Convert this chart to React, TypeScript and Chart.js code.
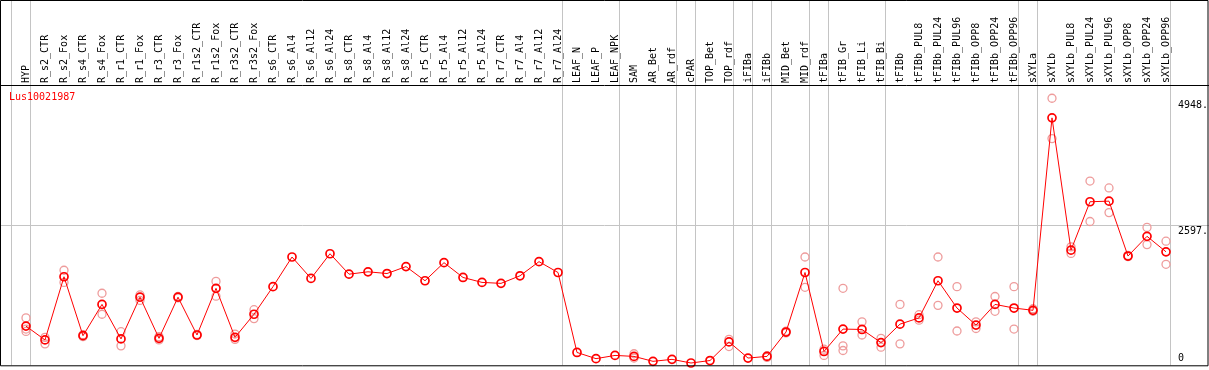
import React, { useEffect, useRef } from 'react';
import { Chart, registerables } from 'chart.js';

Chart.register(...registerables);

const geneId = 'Lus10021987';

const categories = [
  'HYP', 'R_s2_CTR', 'R_s2_Fox', 'R_s4_CTR', 'R_s4_Fox', 'R_r1_CTR', 'R_r1_Fox', 'R_r3_CTR', 'R_r3_Fox',
  'R_r1s2_CTR', 'R_r1s2_Fox', 'R_r3s2_CTR', 'R_r3s2_Fox', 'R_s6_CTR', 'R_s6_Al4', 'R_s6_Al12', 'R_s6_Al24',
  'R_s8_CTR', 'R_s8_Al4', 'R_s8_Al12', 'R_s8_Al24', 'R_r5_CTR', 'R_r5_Al4', 'R_r5_Al12', 'R_r5_Al24',
  'R_r7_CTR', 'R_r7_Al4', 'R_r7_Al12', 'R_r7_Al24', 'LEAF_N', 'LEAF_P', 'LEAF_NPK', 'SAM', 'AR_Bet', 'AR_rdf',
  'cPAR', 'TOP_Bet', 'TOP_rdf', 'iFIBa', 'iFIBb', 'MID_Bet', 'MID_rdf', 'tFIBa', 'tFIB_Gr', 'tFIB_Li', 'tFIB_Bi',
  'tFIBb', 'tFIBb_PUL8', 'tFIBb_PUL24', 'tFIBb_PUL96', 'tFIBb_OPP8', 'tFIBb_OPP24', 'tFIBb_OPP96',
  'sXYLa', 'sXYLb', 'sXYLb_PUL8', 'sXYLb_PUL24', 'sXYLb_PUL96', 'sXYLb_OPP8', 'sXYLb_OPP24', 'sXYLb_OPP96',
];

const meanValues = [
  710, 453, 1628, 532, 1114, 472, 1248, 483, 1248,
  545, 1413, 501, 931, 1444, 1995, 1597, 2056,
  1676, 1720, 1688, 1817, 1554, 1890, 1615, 1523,
  1505, 1646, 1909, 1707, 220, 105, 165, 147, 55, 92,
  24, 70, 417, 116, 147, 600, 1707, 239, 655, 648, 404,
  747, 863, 1554, 1046, 729, 1114, 1046,
  1004, 4583, 2123, 3023, 3034, 2013, 2380, 2092,
];

const rep1 = [
  863, 501, 1749, 550, 1321, 606, 1290, 514, 1262,
  555, 1542, 563, 1015, null, null, null, null,
  null, null, null, null, null, null, null, null,
  null, null, null, null, null, null, null, 196, null, null,
  null, null, 464, null, 160, 615, 1995, 281, 1413, 789, 483,
  1114, 923, 1995, 1444, 789, 1261, 1444,
  1033, 4948, 2184, 3408, 3280, 2025, 2546, 2289,
];

const rep2 = [
  655, 380, 1523, 515, 931, 343, 1187, 453, 1234,
  535, 1266, 464, 850, null, null, null, null,
  null, null, null, null, null, null, null, null,
  null, null, null, null, null, null, null, 116, null, null,
  null, null, 330, null, 128, 585, 1432, 165, 343, 545, 318,
  380, 820, 1096, 619, 666, 986, 655,
  986, 4197, 2061, 2656, 2821, 2001, 2226, 1859,
];

const rep3 = [
  612, null, null, null, null, null, null, null, null,
  null, null, null, null, null, null, null, null,
  null, null, null, null, null, null, null, null,
  null, null, null, null, null, null, null, null, null, null,
  null, null, null, null, null, null, null, null, 257, null, null,
  null, null, null, null, null, null, null,
  null, null, null, null, null, null, null, null,
];

const yTicks = [0, 2597, 4948];
const yGridValues = [2597];
const yMax = 5194;

// last category of each sample group (a separator follows it); the first separator sits before HYP
const groupEnds = [
  'HYP', 'R_r7_Al24', 'LEAF_NPK', 'AR_rdf', 'cPAR', 'TOP_rdf', 'iFIBa', 'iFIBb',
  'MID_rdf', 'tFIBa', 'tFIB_Bi', 'tFIBb_OPP96', 'sXYLa', 'sXYLb_OPP96',
];

const W = 1209;
const H = 370;
const FONT = '10px "DejaVu Sans Mono", "Liberation Mono", monospace';

const decorPlugin = {
  id: 'decor',
  beforeDatasetsDraw(chart: any) {
    const { ctx, chartArea } = chart;
    const xs = chart.scales.x;
    const ys = chart.scales.y;
    ctx.save();
    ctx.lineWidth = 1;
    ctx.strokeStyle = '#c4c4c4';
    // vertical group separators
    const sepIdx = [-1, ...groupEnds.map((g) => categories.indexOf(g))];
    sepIdx.forEach((i) => {
      const x = Math.floor(xs.getPixelForValue(i) + 4.5) + 0.5;
      ctx.beginPath();
      ctx.moveTo(x, 0);
      ctx.lineTo(x, chartArea.bottom + 1);
      ctx.stroke();
    });
    // horizontal grid
    yGridValues.forEach((v) => {
      const y = Math.round(ys.getPixelForValue(v)) + 0.5;
      ctx.beginPath();
      ctx.moveTo(0, y);
      ctx.lineTo(W, y);
      ctx.stroke();
    });
    // category labels (rotated)
    ctx.fillStyle = '#000';
    ctx.font = FONT;
    ctx.textAlign = 'left';
    ctx.textBaseline = 'middle';
    categories.forEach((c, i) => {
      const x = xs.getPixelForValue(i);
      ctx.save();
      ctx.translate(x, chartArea.top - 2);
      ctx.rotate(-Math.PI / 2);
      ctx.fillText(c, 0, 0);
      ctx.restore();
    });
    // y tick labels
    yTicks.forEach((v) => {
      const y = Math.min(ys.getPixelForValue(v) + 7, chartArea.bottom - 6);
      ctx.fillText(v === 0 ? '0' : v + '.', 1178, y);
    });
    // gene id
    ctx.fillStyle = '#ff0000';
    ctx.fillText(geneId, 9, chartArea.top + 12.5);
    ctx.restore();
  },
  afterDraw(chart: any) {
    const { ctx, chartArea } = chart;
    ctx.save();
    ctx.strokeStyle = '#000';
    ctx.lineWidth = 1;
    ctx.beginPath();
    ctx.rect(0.5, 0.5, W - 1.5 - 0.5 + 0.5, chartArea.bottom + 1);
    ctx.moveTo(0, chartArea.top + 0.5);
    ctx.lineTo(W, chartArea.top + 0.5);
    ctx.stroke();
    ctx.restore();
  },
};

export default function App() {
  const ref = useRef<HTMLCanvasElement>(null);
  useEffect(() => {
    if (!ref.current) return;
    const repStyle = {
      type: 'line' as const,
      showLine: false,
      borderColor: '#ee9c9c',
      backgroundColor: 'rgba(0,0,0,0)',
      pointRadius: 4,
      pointBorderWidth: 1.3,
      pointBorderColor: '#ee9c9c',
      pointBackgroundColor: 'rgba(0,0,0,0)',
      clip: false as any,
    };
    const chart = new Chart(ref.current, {
      type: 'line',
      data: {
        labels: categories,
        datasets: [
          {
            label: geneId,
            data: meanValues,
            borderColor: '#ff0000',
            borderWidth: 1,
            backgroundColor: 'rgba(0,0,0,0)',
            pointRadius: 4,
            pointBorderWidth: 1.7,
            pointBorderColor: '#ff0000',
            pointBackgroundColor: 'rgba(0,0,0,0)',
            tension: 0,
            clip: false as any,
          },
          { ...repStyle, label: 'rep1', data: rep1 },
          { ...repStyle, label: 'rep2', data: rep2 },
          { ...repStyle, label: 'rep3', data: rep3 },
        ],
      },
      options: {
        responsive: false,
        animation: false,
        devicePixelRatio: 1,
        layout: { padding: { left: 26, right: W - 1166, top: 85, bottom: H - 368 } },
        plugins: { legend: { display: false }, tooltip: { enabled: false }, title: { display: false } },
        scales: {
          x: { type: 'category', display: false, offset: false },
          y: { type: 'linear', display: false, min: 0, max: yMax },
        },
      },
      plugins: [decorPlugin],
    });
    return () => chart.destroy();
  }, []);
  return (
    <div style={{ position: 'fixed', left: 0, top: 0, width: W, height: H, background: '#fff' }}>
      <canvas ref={ref} width={W} height={H} style={{ display: 'block', width: W, height: H }} />
    </div>
  );
}
